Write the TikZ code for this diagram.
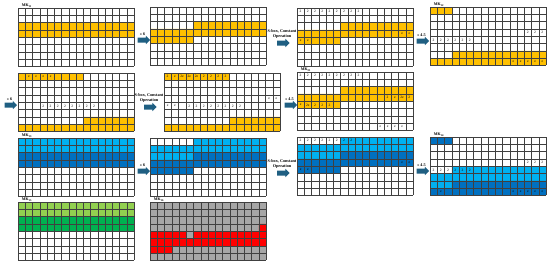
\documentclass[tikz,border=0pt]{standalone}
\usepackage{fontspec}
\setmainfont{Liberation Serif}
\usetikzlibrary{positioning, shapes.arrows}

\definecolor{keyyellow}{RGB}{255,192,0}
\definecolor{lightblue}{RGB}{0,176,240}
\definecolor{darkblue}{RGB}{0,112,192}
\definecolor{lightgreen}{RGB}{146,208,80}
\definecolor{keygreen}{RGB}{0,176,80}
\definecolor{keygray}{RGB}{166,166,166}
\definecolor{arrowblue}{RGB}{31,95,130}

% 16 x 8 cell lines of one key block
\newcommand{\keygrid}{%
  \foreach \i in {0,...,16} \draw[gridline] (\i,0) -- (\i,8);
  \foreach \j in {0,...,8} \draw[gridline] (0,\j) -- (16,\j);}
% one symbol in each listed column of a row
\newcommand{\cellrow}[3]{\foreach \c in {#2} \node[celltext] at (\c+0.5,#1+0.5) {#3};}

\begin{document}
\begin{tikzpicture}[x=1pt, y=-1pt,
  gridbox/.style={anchor=north west, minimum width=116pt, minimum height=58.4pt, inner sep=0pt},
  cellgrid/.style={x=7.25pt, y=-7.3pt},
  gridline/.style={draw=black!75, line width=0.35pt},
  celltext/.style={font=\fontsize{3.6}{4}\selectfont, inner sep=0pt},
  mklabel/.style={font=\fontsize{4}{4.5}\selectfont\bfseries, anchor=south west, inner sep=0.6pt},
  shiftarrow/.style={single arrow, fill=arrowblue, inner sep=2.3pt, single arrow head extend=1.7pt, minimum height=12.5pt},
  oplabel/.style={font=\fontsize{4.2}{4.8}\selectfont\bfseries, align=center, inner sep=0pt}]
  \useasboundingbox (0,0) rectangle (550,265);

  % key blocks, placed at their top left corners
  \node[gridbox] (mk11) at (18,8) {};
  \node[gridbox] (shift11) at (150,7) {};
  \node[gridbox] (sbox11) at (297,8) {};
  \node[gridbox] (mk12) at (430,7) {};
  \node[gridbox] (mk20) at (18,73) {};
  \node[gridbox] (sbox20) at (164,73) {};
  \node[gridbox] (mk21) at (297,72) {};
  \node[gridbox] (mk13) at (18,138) {};
  \node[gridbox] (shift13) at (150,138) {};
  \node[gridbox] (sbox13) at (297,137) {};
  \node[gridbox] (mk14) at (430,137) {};
  \node[gridbox] (mk15) at (18,202) {};
  \node[gridbox] (mk16) at (150,202) {};

  \node[mklabel] at ([xshift=3pt]mk11.north west) {MK\textsubscript{11}};
  \node[mklabel] at ([xshift=3pt]mk12.north west) {MK\textsubscript{12}};
  \node[mklabel] at ([xshift=3pt]mk21.north west) {MK\textsubscript{21}};
  \node[mklabel] at ([xshift=3pt]mk13.north west) {MK\textsubscript{13}};
  \node[mklabel] at ([xshift=3pt]mk14.north west) {MK\textsubscript{14}};
  \node[mklabel] at ([xshift=3pt]mk15.north west) {MK\textsubscript{15}};
  \node[mklabel] at ([xshift=3pt]mk16.north west) {MK\textsubscript{16}};

  % first row: yellow key
  \begin{scope}[shift={(mk11.north west)}, cellgrid]
    \fill[keyyellow] (0,2) rectangle (16,4);
    \keygrid
  \end{scope}
  \begin{scope}[shift={(shift11.north west)}, cellgrid]
    \fill[keyyellow] (0,3) rectangle (6,5) (6,2) rectangle (16,4);
    \keygrid
  \end{scope}
  \begin{scope}[shift={(sbox11.north west)}, cellgrid]
    \fill[keyyellow] (0,3) rectangle (6,5) (6,2) rectangle (16,4);
    \keygrid
    \cellrow{0}{0,...,8}{2}
    \cellrow{3}{14,15}{e}
    \cellrow{4}{0,1}{e}
  \end{scope}
  \begin{scope}[shift={(mk12.north west)}, cellgrid]
    \fill[keyyellow] (0,0) rectangle (3,1) (3,6) rectangle (16,7) (0,7) rectangle (16,8);
    \keygrid
    \cellrow{3}{13,14,15}{2}
    \cellrow{4}{0,...,5}{2}
    \cellrow{7}{11,...,15}{e}
  \end{scope}

  % second row
  \begin{scope}[shift={(mk20.north west)}, cellgrid]
    \fill[keyyellow] (0,0) rectangle (9,1) (9,6) rectangle (16,7) (0,7) rectangle (16,8);
    \keygrid
    \cellrow{0}{1,...,4}{e}
    \cellrow{4}{3,...,10}{2}
  \end{scope}
  \begin{scope}[shift={(sbox20.north west)}, cellgrid]
    \fill[keyyellow] (0,0) rectangle (9,1) (9,6) rectangle (16,7) (0,7) rectangle (16,8);
    \keygrid
    \foreach \c/\t in {0/2, 1/e, 2/2e, 3/2e, 4/2e, 5/2, 6/2, 7/2, 8/2}
      \node[celltext] at (\c+0.5,0.5) {\t};
    \cellrow{3}{14,15}{e}
    \cellrow{4}{0,1}{e}
    \cellrow{4}{3,...,10}{2}
  \end{scope}
  \begin{scope}[shift={(mk21.north west)}, cellgrid]
    \fill[keyyellow] (0,3) rectangle (6,5) (6,2) rectangle (16,4);
    \keygrid
    \cellrow{0}{0,...,8}{2}
    \foreach \c/\t in {12/2, 13/e, 14/2e, 15/2}
      \node[celltext] at (\c+0.5,3.5) {\t};
    \foreach \c/\t in {0/e, 1/2e, 2/2, 3/2, 4/2}
      \node[celltext] at (\c+0.5,4.5) {\t};
    \cellrow{7}{11,...,14}{e}
  \end{scope}

  % third row: blue key
  \begin{scope}[shift={(mk13.north west)}, cellgrid]
    \fill[lightblue] (0,0) rectangle (16,2);
    \fill[darkblue] (0,2) rectangle (16,4);
    \keygrid
  \end{scope}
  \begin{scope}[shift={(shift13.north west)}, cellgrid]
    \fill[lightblue] (6,0) rectangle (16,2) (0,1) rectangle (6,3);
    \fill[darkblue] (6,2) rectangle (16,4) (0,3) rectangle (6,5);
    \keygrid
  \end{scope}
  \begin{scope}[shift={(sbox13.north west)}, cellgrid]
    \fill[lightblue] (6,0) rectangle (16,2) (0,1) rectangle (6,3);
    \fill[darkblue] (6,2) rectangle (16,4) (0,3) rectangle (6,5);
    \keygrid
    \cellrow{0}{0,...,7}{2}
    \cellrow{3}{14,15}{e}
    \cellrow{4}{0,1}{e}
  \end{scope}
  \begin{scope}[shift={(mk14.north west)}, cellgrid]
    \fill[darkblue] (0,0) rectangle (3,1);
    \fill[lightblue] (3,4) rectangle (16,5) (0,5) rectangle (16,6) (0,6) rectangle (3,7);
    \fill[darkblue] (3,6) rectangle (16,7) (0,7) rectangle (16,8);
    \keygrid
    \cellrow{3}{13,14,15}{2}
    \cellrow{4}{0,...,5}{2}
    \cellrow{7}{1,11,12,13,14,15}{e}
  \end{scope}

  % fourth row
  \begin{scope}[shift={(mk15.north west)}, cellgrid]
    \fill[lightgreen] (0,0) rectangle (16,2);
    \fill[keygreen] (0,2) rectangle (16,4);
    \keygrid
  \end{scope}
  \begin{scope}[shift={(mk16.north west)}, cellgrid]
    \fill[keygray] (0,0) rectangle (16,8);
    \fill[red] (15,3) rectangle (16,4) (0,4) rectangle (5,5) (6,4) rectangle (16,5)
      (0,5) rectangle (16,6) (0,6) rectangle (3,7);
    \keygrid
  \end{scope}

  % operations between the blocks
  \node[shiftarrow] (arr11) at (142.5,40) {};
  \node[oplabel, above=2pt of arr11] {>> 6};
  \node[shiftarrow] (arr12) at (282,43) {};
  \node[oplabel, above=2pt of arr12] {S-box, Constant\\Operation};
  \node[shiftarrow] (arr13) at (421.5,41) {};
  \node[oplabel, above=2pt of arr13] {>> 4.5};

  \node[shiftarrow] (arr20) at (9.5,105) {};
  \node[oplabel, above=2pt of arr20] {>> 6};
  \node[shiftarrow] (arr21) at (149,107) {};
  \node[oplabel, above=2pt of arr21] {S-box, Constant\\Operation};
  \node[shiftarrow] (arr22) at (289.5,105) {};
  \node[oplabel, above=2pt of arr22] {>> 4.5};

  \node[shiftarrow] (arr31) at (142.5,171) {};
  \node[oplabel, above=2pt of arr31] {>> 6};
  \node[shiftarrow] (arr32) at (282,173) {};
  \node[oplabel, above=2pt of arr32] {S-box, Constant\\Operation};
  \node[shiftarrow] (arr33) at (421.5,171) {};
  \node[oplabel, above=2pt of arr33] {>> 4.5};
\end{tikzpicture}
\end{document}
